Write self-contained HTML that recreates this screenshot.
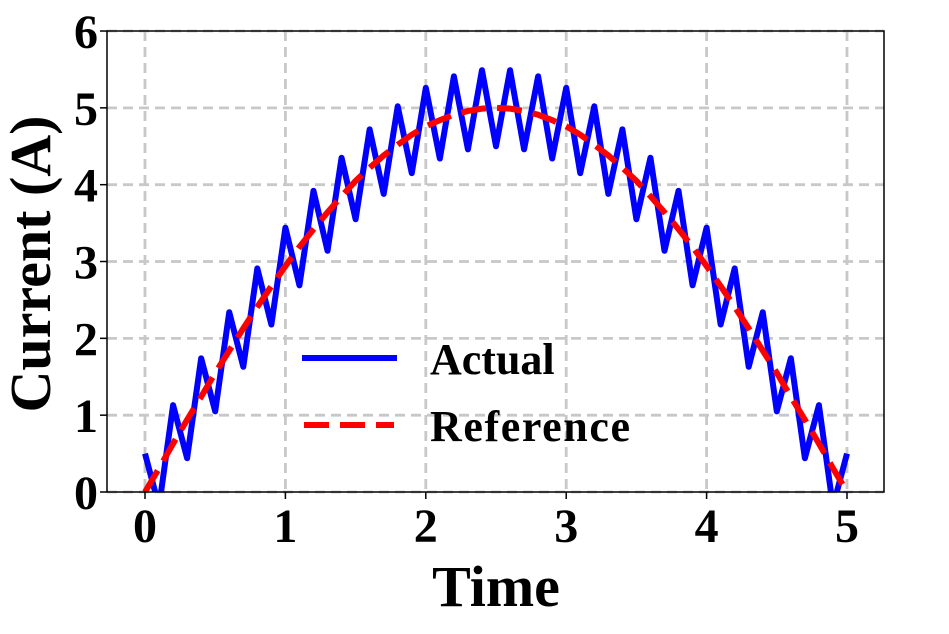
<!DOCTYPE html>
<html><head><meta charset="utf-8"><style>
html,body{margin:0;padding:0;background:#fff;}
svg text{font-family:"Liberation Serif",serif;font-weight:bold;fill:#000;}
</style></head><body>
<svg id="chart" width="949" height="629" xmlns="http://www.w3.org/2000/svg">
<defs><clipPath id="clip"><rect x="107" y="31" width="777" height="461"/></clipPath></defs>
<g id="grid"></g>
<g id="series" clip-path="url(#clip)"></g>
<rect x="107" y="31" width="777" height="461" fill="none" stroke="#000" stroke-width="1.5"/>
<g id="axes"></g>
<text x="0" y="0" transform="translate(50,264) rotate(-90)" text-anchor="middle" font-size="58">Current (A)</text>
<text x="496" y="606" text-anchor="middle" font-size="58">Time</text>
<g>
<line x1="302" y1="358" x2="397" y2="358" stroke="#0000ff" stroke-width="6"/>
<text x="430" y="374" font-size="44">Actual</text>
<line x1="304" y1="425" x2="394" y2="425" stroke="#ff0000" stroke-width="6" stroke-dasharray="25,11"/>
<text x="430" y="441" font-size="44" textLength="200">Reference</text>
</g>
</svg>
<script>
const times=[0,0.1,0.2,0.3,0.4,0.5,0.6,0.7,0.8,0.9,1.0,1.1,1.2,1.3,1.4,1.5,1.6,1.7,1.8,1.9,2.0,2.1,2.2,2.3,2.4,2.5,2.6,2.7,2.8,2.9,3.0,3.1,3.2,3.3,3.4,3.5,3.6,3.7,3.8,3.9,4.0,4.1,4.2,4.3,4.4,4.5,4.6,4.7,4.8,4.9,5.0];
const referenceValues=[0,0.31,0.63,0.94,1.24,1.55,1.84,2.13,2.41,2.68,2.94,3.19,3.42,3.64,3.85,4.05,4.22,4.38,4.52,4.65,4.76,4.84,4.91,4.96,4.99,5.0,4.99,4.96,4.91,4.84,4.76,4.65,4.52,4.38,4.22,4.05,3.85,3.64,3.42,3.19,2.94,2.68,2.41,2.13,1.84,1.55,1.24,0.94,0.63,0.31,0];
const actualValues=[0.5,-0.19,1.13,0.44,1.74,1.05,2.34,1.63,2.91,2.18,3.44,2.69,3.92,3.14,4.35,3.55,4.72,3.88,5.02,4.15,5.26,4.34,5.41,4.46,5.49,4.5,5.49,4.46,5.41,4.34,5.26,4.15,5.02,3.88,4.72,3.55,4.35,3.14,3.92,2.69,3.44,2.18,2.91,1.63,2.34,1.05,1.74,0.44,1.13,-0.19,0.5];
const xTicks=[0,1,2,3,4,5];
const yTicks=[0,1,2,3,4,5,6];
const NS="http://www.w3.org/2000/svg";
const xs=v=>145+v*140.4;
const ys=v=>492-v*76.83;
function mk(tag,attrs,parent){const e=document.createElementNS(NS,tag);for(const k in attrs)e.setAttribute(k,attrs[k]);parent.appendChild(e);return e;}
const grid=document.getElementById('grid'),axes=document.getElementById('axes'),series=document.getElementById('series');
xTicks.forEach(t=>{
 const g=mk('line',{x1:xs(t),x2:xs(t),y1:31,y2:492,stroke:'#c8c8c8','stroke-width':2.8,'stroke-dasharray':'10,6'},grid);
 
 
 const tk=mk('line',{x1:xs(t),x2:xs(t),y1:492,y2:499,stroke:'#000','stroke-width':1.5},axes);
 
 
 const tx=mk('text',{x:xs(t),y:542,'text-anchor':'middle','font-size':48},axes);
 tx.textContent=t;
 
 
});
yTicks.forEach(t=>{
 const g=mk('line',{x1:107,x2:884,y1:ys(t),y2:ys(t),stroke:'#c8c8c8','stroke-width':2.8,'stroke-dasharray':'10,6'},grid);
 
 
 const tk=mk('line',{x1:100,x2:107,y1:ys(t),y2:ys(t),stroke:'#000','stroke-width':1.5},axes);
 
 
 const tx=mk('text',{x:98,y:ys(t)+17,'text-anchor':'end','font-size':48},axes);
 tx.textContent=t;
 
 
});
const pa=times.map((t,i)=>xs(t)+','+ys(actualValues[i])).join(' ');
const a=mk('polyline',{points:pa,fill:'none',stroke:'#0000ff','stroke-width':6,'stroke-linejoin':'round'},series);


const pr=times.map((t,i)=>xs(t)+','+ys(referenceValues[i])).join(' ');
const r=mk('polyline',{points:pr,fill:'none',stroke:'#ff0000','stroke-width':6,'stroke-dasharray':'25,11'},series);


</script>
</body></html>
